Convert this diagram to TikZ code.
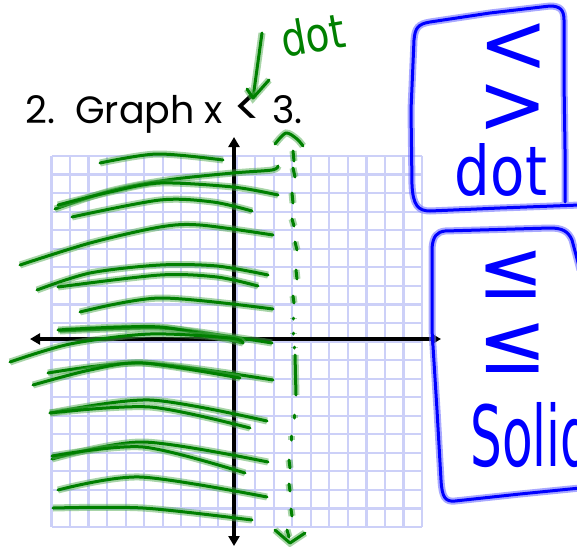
\documentclass[tikz,border=0pt]{standalone}
\usepackage{fontspec}
\setmainfont{Poppins}
\newfontfamily\handfont{DejaVu Sans}
\usetikzlibrary{arrows.meta}
\definecolor{gridc}{RGB}{204,208,248}
\definecolor{gcore}{RGB}{0,128,0}
\definecolor{ghalo}{RGB}{80,170,80}
\definecolor{bcore}{RGB}{0,0,255}
\definecolor{bhalo}{RGB}{110,110,255}
\tikzset{
  gstroke/.style={draw=gcore, line width=3pt, line cap=round, line join=round,
    preaction={draw=ghalo, line width=7pt, opacity=0.5}},
  bstroke/.style={draw=bcore, line width=3pt, line cap=round, line join=round,
    preaction={draw=bhalo, line width=7pt, opacity=0.6}},
  axisline/.style={line width=3.5pt, {Triangle[length=10pt,width=11pt]}-{Triangle[length=10pt,width=11pt]}},
  gridline/.style={draw=gridc, line width=2.2pt},
  gtext/.style={text=gcore, font=\handfont, inner sep=0pt},
  btext/.style={text=bcore, font=\handfont, inner sep=0pt},
  bsym/.style={text=bcore, inner sep=0pt, font=\handfont\fontsize{#1}{#1}\selectfont},
}
\begin{document}
\begin{tikzpicture}[x=1pt,y=-1pt]
\useasboundingbox (0,0) rectangle (577,546);
\clip (0,0) rectangle (577,546);
% grid
\foreach \i in {0,...,20} {
  \draw[gridline] ({51.5+18.525*\i},156) -- ({51.5+18.525*\i},527);
  \draw[gridline] (51.5,{156+18.55*\i}) -- (422,{156+18.55*\i});
}
% axes
\coordinate (xl) at (30,339);
\coordinate (xr) at (441,339);
\coordinate (yt) at (234,137);
\coordinate (yb) at (234,546);
\draw[axisline] (xl) -- (xr);
\draw[axisline] (yt) -- (yb);
% title
\node[anchor=base west, font=\fontsize{38}{40}\selectfont, inner sep=0pt] (title) at (25,123)
  {2.\ \ Graph x {\fontsize{52}{52}\selectfont\raisebox{-2pt}{<}} 3.};
% green shading strokes
\draw[gstroke] plot[smooth] coordinates {(100,163) (157,154) (223,160)};
\draw[gstroke] plot[smooth] coordinates {(55,209) (110,191) (167,180) (233,173) (272,170) (278,166)};
\draw[gstroke] plot[smooth] coordinates {(58,205) (110,192) (160,183) (233,187) (278,195)};
\draw[gstroke] plot[smooth] coordinates {(72,217) (160,200) (213,202) (252,211)};
\draw[gstroke] plot[smooth] coordinates {(20,265) (90,243) (160,227) (200,225) (273,235)};
\draw[gstroke] plot[smooth] coordinates {(37,290) (90,273) (160,265) (217,266) (268,275)};
\draw[gstroke] plot[smooth] coordinates {(58,287) (160,275) (217,277) (258,286)};
\draw[gstroke] plot[smooth] coordinates {(80,312) (160,298) (273,309)};
\draw[gstroke] plot[smooth] coordinates {(60,331) (160,328) (233,337) (272,343)};
\draw[gstroke] plot[smooth] coordinates {(58,330) (160,327) (243,343)};
\draw[gstroke] plot[smooth] coordinates {(10,362) (70,344) (150,334) (230,338) (243,343)};
\draw[gstroke] plot[smooth] coordinates {(48,373) (143,363) (273,380)};
\draw[gstroke] plot[smooth] coordinates {(33,385) (90,370) (143,363) (240,378)};
\draw[gstroke] plot[smooth] coordinates {(50,413) (150,400) (267,421)};
\draw[gstroke] plot[smooth] coordinates {(50,413) (150,407) (250,428)};
\draw[gstroke] plot[smooth] coordinates {(52,459) (143,442) (268,462)};
\draw[gstroke] plot[smooth] coordinates {(52,456) (143,447) (245,473)};
\draw[gstroke] plot[smooth] coordinates {(58,490) (140,477) (267,497)};
\draw[gstroke] plot[smooth] coordinates {(53,508) (143,508) (252,520)};
% dashed boundary x = 3
\foreach \xa/\ya/\xb/\yb in {293/151/294/161, 293/168/295/177, 292/193/293/203, 292/219/294/226,
  295/242/297/250, 296/270/297/279, 293/296/294/303, 293/318/293/319, 293/333/293/334,
  294/347/294/348, 295/355/296/395, 294/415/294/418, 291/436/291/440, 289/460/290/468,
  289/484/290/491, 291/509/292/516}
  \draw[gstroke] (\xa,\ya) -- (\xb,\yb);
\draw[gstroke] plot[smooth] coordinates {(275,144) (286,133) (297,139) (303,146)};
\draw[gstroke] (275,530) -- (290,543) -- (305,533);
\draw[gstroke] (287,530) -- (289,537);
% "dot" pointer
\coordinate (ptop) at (262,33);
\coordinate (ptip) at (253,98);
\draw[gstroke] (ptop) -- (ptip);
\draw[gstroke] (247,89) -- (ptip) -- (269,80);
\node[gtext, rotate=10, anchor=base] (gdot) at (316,52) {\resizebox{64pt}{36pt}{dot}};
% blue boxes
\draw[bstroke] (565,202) -- (565,150) -- (564,80) -- (564,20) .. controls (564,10) and (560,6) .. (550,6)
  -- (490,13) -- (430,22) .. controls (418,24) and (415,28) .. (414,40) -- (411,110) -- (412,185)
  .. controls (413,205) and (418,211) .. (430,211) -- (500,208) -- (580,205);
\draw[bstroke] (580,270) -- (572,240) .. controls (568,231) and (562,228) .. (550,228) -- (480,230)
  -- (445,231) .. controls (437,232) and (433,236) .. (432,248) -- (432,330) -- (437,410)
  -- (441,480) .. controls (442,497) and (445,502) .. (455,501) -- (520,494) -- (580,488);
% blue box texts
\node[bsym=84] (lt) at (514,48) {<};
\node[bsym=84] (gt) at (513,109) {>};
\node[btext, anchor=base] (bdot) at (501,195) {\resizebox{92pt}{52pt}{dot}};
\node[bsym=80] (le1) at (511,274) {≤};
\node[bsym=84] (le2) at (513,348) {≤};
\node[btext, anchor=base west] (solid) at (470,466) {\resizebox{122pt}{64pt}{Solid}};
\end{tikzpicture}
\end{document}
